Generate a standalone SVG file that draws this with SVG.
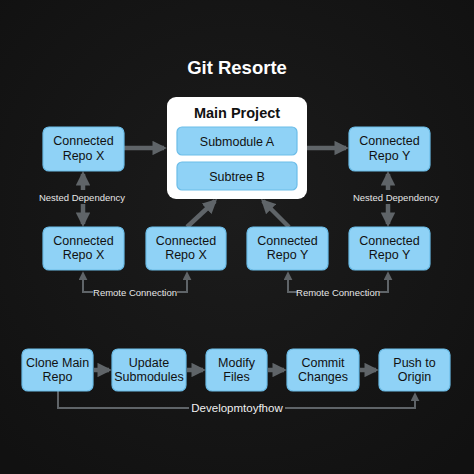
<svg xmlns="http://www.w3.org/2000/svg" width="474" height="474" viewBox="0 0 474 474">
<defs>
<radialGradient id="bg" cx="50%" cy="45%" r="70%">
<stop offset="0" stop-color="#1c1c1c"/>
<stop offset="1" stop-color="#111111"/>
</radialGradient>
<marker id="ah" viewBox="0 0 10 10" refX="8" refY="5" markerWidth="3.2" markerHeight="3.2" orient="auto-start-reverse">
<path d="M0,0 L10,5 L0,10 Z" fill="#5f6468"/>
</marker>
<marker id="ahs" viewBox="0 0 10 10" refX="8" refY="5" markerWidth="4.5" markerHeight="4.5" orient="auto-start-reverse">
<path d="M0,0 L10,5 L0,10 Z" fill="#5f6468"/>
</marker>
</defs>
<style>
.box{fill:#8fd2f6;stroke:#6cbde8;stroke-width:1.2}
.t{font-family:"Liberation Sans",Arial,sans-serif;font-size:12.5px;fill:#111;text-anchor:middle}
.lbl{font-family:"Liberation Sans",Arial,sans-serif;font-size:9.5px;fill:#e6e6e6;text-anchor:middle}
.c{fill:none;stroke:#5f6468;stroke-width:4.5}
.cs{fill:none;stroke:#5f6468;stroke-width:2}
</style>
<rect width="474" height="474" fill="url(#bg)"/>
<text x="237" y="74" font-family="Liberation Sans,Arial,sans-serif" font-size="18.5" font-weight="bold" fill="#ffffff" text-anchor="middle">Git Resorte</text>

<g id="connectors">
<line class="c" x1="124" y1="148" x2="164" y2="148" marker-end="url(#ah)"/>
<line class="c" x1="307" y1="148" x2="346" y2="148" marker-end="url(#ah)"/>
<line class="c" x1="83" y1="190" x2="83" y2="174" marker-end="url(#ah)"/>
<line class="c" x1="83" y1="204" x2="83" y2="224" marker-end="url(#ah)"/>
<line class="c" x1="388" y1="190" x2="388" y2="174" marker-end="url(#ah)"/>
<line class="c" x1="388" y1="204" x2="388" y2="224" marker-end="url(#ah)"/>
<line class="c" x1="187" y1="227" x2="215" y2="201" marker-end="url(#ah)"/>
<line class="c" x1="289" y1="227" x2="263" y2="201" marker-end="url(#ah)"/>
<path class="cs" d="M93,292 H83 V273" marker-end="url(#ahs)"/>
<path class="cs" d="M177,292 H187 V273" marker-end="url(#ahs)"/>
<path class="cs" d="M298,292 H288 V273" marker-end="url(#ahs)"/>
<path class="cs" d="M379,292 H388 V273" marker-end="url(#ahs)"/>
<line class="c" x1="94" y1="370" x2="109" y2="370" marker-end="url(#ah)"/>
<line class="c" x1="187" y1="370" x2="203" y2="370" marker-end="url(#ah)"/>
<line class="c" x1="268" y1="370" x2="284" y2="370" marker-end="url(#ah)"/>
<line class="c" x1="360" y1="370" x2="376" y2="370" marker-end="url(#ah)"/>
<path class="cs" d="M58,391 V408 H189"/>
<path class="cs" d="M285,408 H415 V394" marker-end="url(#ahs)"/>
</g>
<text class="lbl" x="82" y="201">Nested Dependency</text>
<text class="lbl" x="396" y="201">Nested Dependency</text>
<text class="lbl" x="135" y="295.5">Remote Connection</text>
<text class="lbl" x="338" y="295.5">Remote Connection</text>
<text class="lbl" x="237" y="412" style="font-size:11.5px;fill:#f0f0f0">Developmtoyfhow</text>

<g id="main">
<rect x="167" y="97" width="140" height="102" rx="9" fill="#ffffff"/>
<text x="237" y="118" font-family="Liberation Sans,Arial,sans-serif" font-size="14.5" font-weight="bold" fill="#111" text-anchor="middle">Main Project</text>
</g>
<g id="subA"><rect class="box" x="177" y="127" width="120" height="28" rx="5"/><text class="t" x="237" y="145.5">Submodule A</text></g>
<g id="subB"><rect class="box" x="177" y="162" width="120" height="28" rx="5"/><text class="t" x="237" y="180.5">Subtree B</text></g>

<g id="repoX1"><rect class="box" x="43" y="127" width="81" height="44" rx="6"/><text class="t" x="83.5" y="145">Connected</text><text class="t" x="83.5" y="160">Repo X</text></g>
<g id="repoY1"><rect class="box" x="349" y="127" width="81" height="44" rx="6"/><text class="t" x="389.5" y="145">Connected</text><text class="t" x="389.5" y="160">Repo Y</text></g>

<g id="repoX2"><rect class="box" x="43" y="227" width="81" height="43" rx="6"/><text class="t" x="83.5" y="245">Connected</text><text class="t" x="83.5" y="259">Repo X</text></g>
<g id="repoX3"><rect class="box" x="146" y="227" width="80" height="43" rx="6"/><text class="t" x="186" y="245">Connected</text><text class="t" x="186" y="259">Repo X</text></g>
<g id="repoY2"><rect class="box" x="247" y="227" width="81" height="43" rx="6"/><text class="t" x="287.5" y="245">Connected</text><text class="t" x="287.5" y="259">Repo Y</text></g>
<g id="repoY3"><rect class="box" x="349" y="227" width="81" height="43" rx="6"/><text class="t" x="389.5" y="245">Connected</text><text class="t" x="389.5" y="259">Repo Y</text></g>

<g id="clone"><rect class="box" x="22" y="349" width="71" height="42" rx="6"/><text class="t" x="57.5" y="367">Clone Main</text><text class="t" x="57.5" y="381">Repo</text></g>
<g id="update"><rect class="box" x="112" y="349" width="74" height="42" rx="6"/><text class="t" x="149" y="367">Update</text><text class="t" x="149" y="381">Submodules</text></g>
<g id="modify"><rect class="box" x="206" y="349" width="61" height="42" rx="6"/><text class="t" x="236.5" y="367">Modify</text><text class="t" x="236.5" y="381">Files</text></g>
<g id="commit"><rect class="box" x="287" y="349" width="72" height="42" rx="6"/><text class="t" x="323" y="367">Commit</text><text class="t" x="323" y="381">Changes</text></g>
<g id="push"><rect class="box" x="379" y="349" width="71" height="42" rx="6"/><text class="t" x="414.5" y="367">Push to</text><text class="t" x="414.5" y="381">Origin</text></g>
</svg>
